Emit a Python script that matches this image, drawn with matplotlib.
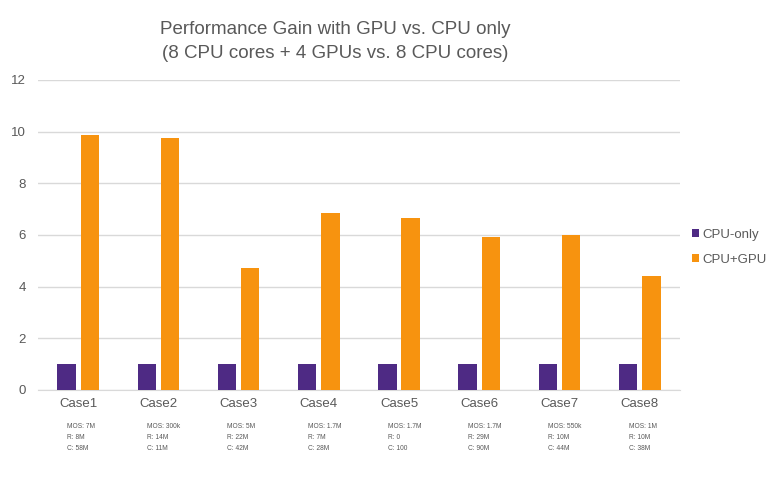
import matplotlib.pyplot as plt
import matplotlib.transforms as mtransforms
import numpy as np

plt.rcParams['font.family'] = ['Liberation Sans Narrow', 'Liberation Sans', 'DejaVu Sans']

cases = ['Case1', 'Case2', 'Case3', 'Case4', 'Case5', 'Case6', 'Case7', 'Case8']
cpu_only = [1, 1, 1, 1, 1, 1, 1, 1]
cpu_gpu = [9.85, 9.76, 4.72, 6.86, 6.65, 5.92, 5.98, 4.42]
mos = ['7M', '300k', '5M', '1.7M', '1.7M', '1.7M', '550k', '1M']
r_vals = ['8M', '14M', '22M', '7M', '0', '29M', '10M', '10M']
c_vals = ['58M', '11M', '42M', '28M', '100', '90M', '44M', '38M']

purple = '#4e2a84'
orange = '#f7930f'
grey = '#595959'

fig = plt.figure(figsize=(7.77, 4.93), dpi=100)
ax = fig.add_axes([0.049, 0.209, 0.826, 0.629])

x = np.arange(len(cases))
w = 0.23
ax.bar(x - 0.145, cpu_only, w, color=purple, label='CPU-only', zorder=3)
ax.bar(x + 0.145, cpu_gpu, w, color=orange, label='CPU+GPU', zorder=3)

ax.set_xlim(-0.5, len(cases) - 0.5)
ax.set_ylim(0, 12)
ax.set_yticks(np.arange(0, 13, 2))
ax.yaxis.grid(True, color='#d9d9d9', linewidth=1, zorder=0)
for s in ['top', 'right', 'left']:
    ax.spines[s].set_visible(False)
ax.spines['bottom'].set_color('#d9d9d9')
ax.tick_params(axis='both', length=0, colors=grey, labelsize=9.5)
ax.tick_params(axis='y', pad=9)
ax.tick_params(axis='x', pad=6)
ax.set_xticks(x)
ax.set_xticklabels(cases)

trans = mtransforms.blended_transform_factory(ax.transData, ax.transAxes)
for i in range(len(cases)):
    txt = f'MOS: {mos[i]}\nR: {r_vals[i]}\nC: {c_vals[i]}'
    ax.text(i - 0.14, -0.107, txt, transform=trans, fontsize=4.8, color=grey,
            ha='left', va='top', linespacing=1.75)

fig.text(0.432, 0.915, 'Performance Gain with GPU vs. CPU only\n(8 CPU cores + 4 GPUs vs. 8 CPU cores)',
         ha='center', va='center', fontsize=13.5, color=grey, linespacing=1.55)

ax.legend(loc='center left', bbox_to_anchor=(1.0, 0.46), frameon=False,
          handlelength=0.55, handleheight=0.55, handletextpad=0.25,
          labelspacing=1.0, fontsize=9.5, labelcolor=grey)

fig.savefig('out.png', dpi=100)
